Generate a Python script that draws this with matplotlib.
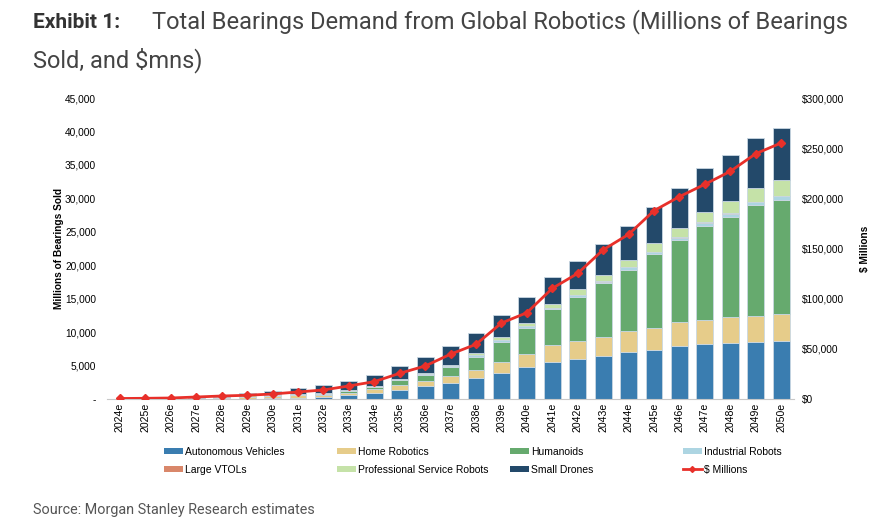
import numpy as np
import matplotlib
matplotlib.use('Agg')
import matplotlib.pyplot as plt
from matplotlib.patches import Patch
from matplotlib.lines import Line2D
from matplotlib.ticker import FuncFormatter

# Data (millions of bearings sold)
years = [f'{y}e' for y in range(2024, 2051)]

autonomous_vehicles = [10, 10, 15, 20, 30, 50, 100, 200, 300, 550, 950, 1350, 1950, 2440,
                       3190, 3940, 4830, 5580, 6000, 6450, 6980, 7380, 7920, 8170, 8320, 8470, 8620]
home_robotics = [10, 15, 25, 110, 160, 280, 380, 350, 350, 400, 500, 750, 790, 1000,
                 1200, 1640, 1840, 2440, 2720, 2870, 3140, 3290, 3590, 3690, 3890, 3890, 4140]
humanoids = [0, 0, 0, 0, 0, 0, 20, 50, 100, 200, 300, 750, 900, 1300,
             1940, 2990, 3990, 5430, 6580, 7980, 9220, 10960, 12210, 14050, 15050, 16590, 17040]
industrial_robots = [10, 10, 15, 20, 30, 40, 50, 60, 70, 80, 90, 50, 100, 150,
                     200, 250, 250, 150, 200, 250, 350, 300, 400, 470, 450, 490, 550]
large_vtols = [0, 0, 0, 0, 0, 0, 0, 0, 0, 0, 0, 0, 0, 0,
               0, 0, 0, 0, 0, 20, 20, 50, 50, 80, 100, 60, 50]
prof_service = [5, 10, 15, 40, 110, 160, 150, 90, 130, 170, 160, 50, 200, 250,
                350, 400, 450, 650, 900, 930, 1130, 1300, 1450, 1510, 1740, 2080, 2290]
small_drones = [20, 30, 50, 250, 250, 350, 450, 950, 1090, 1290, 1540, 1990, 2290, 2790,
                2940, 3340, 3840, 4040, 4290, 4630, 5030, 5480, 5880, 6580, 6980, 7380, 7870]

# $ Millions (right axis)
dollars_mn = [500, 700, 1000, 2000, 3000, 3700, 5000, 7000, 9000, 13000, 17300, 25600,
              32900, 44700, 54500, 75700, 86000, 110300, 125200, 148700, 164100, 187700,
              201700, 214000, 226900, 244500, 255200]

series = [
    ('Autonomous Vehicles', autonomous_vehicles, '#3a7db0'),
    ('Home Robotics', home_robotics, '#e6cc8a'),
    ('Humanoids', humanoids, '#66aa6e'),
    ('Industrial Robots', industrial_robots, '#add5e2'),
    ('Large VTOLs', large_vtols, '#d9876a'),
    ('Professional Service Robots', prof_service, '#c5e2a8'),
    ('Small Drones', small_drones, '#23496a'),
]
LINE_COLOR = '#e8302a'

plt.rcParams['font.family'] = ['Liberation Sans', 'DejaVu Sans']

fig = plt.figure(figsize=(8.94, 5.26), dpi=100)
ax = fig.add_axes([0.12, 1 - 399 / 526, 0.768, 301 / 526])

x = np.arange(len(years))
bottom = np.zeros(len(years))
for name, vals, col in series:
    vals = np.array(vals, dtype=float)
    ax.bar(x, vals, 0.66, bottom=bottom, color=col, edgecolor='#c9d7e2',
           linewidth=0.6, label=name, zorder=2)
    bottom += vals

ax.set_xlim(-0.5, len(years) - 0.5)
ax.set_ylim(0, 45000)
ax.set_yticks(np.arange(0, 45001, 5000))
ax.yaxis.set_major_formatter(FuncFormatter(lambda v, p: '-' if v == 0 else f'{v:,.0f}'))
ax.set_xticks(x)
ax.set_xticklabels(years, rotation=90, fontsize=7.6)
ax.tick_params(axis='x', length=0, pad=3)
ax.tick_params(axis='y', length=0, pad=8, labelsize=7.3)
ax.set_ylabel('Millions of Bearings Sold', fontsize=7.3, fontweight='bold', labelpad=1)
for s in ['left', 'right', 'top']:
    ax.spines[s].set_visible(False)
ax.spines['bottom'].set_color('#c8c8c8')

ax2 = ax.twinx()
ax2.plot(x, dollars_mn, color=LINE_COLOR, linewidth=2, marker='D', markersize=4.5, zorder=3)
ax2.set_ylim(0, 300000)
ax2.set_yticks(np.arange(0, 300001, 50000))
ax2.yaxis.set_major_formatter(FuncFormatter(lambda v, p: f'${v:,.0f}'))
ax2.tick_params(axis='y', length=0, pad=6, labelsize=7.3)
ax2.set_ylabel('$ Millions', fontsize=7.3, fontweight='bold', rotation=90, labelpad=11)
for s in ['left', 'right', 'top', 'bottom']:
    ax2.spines[s].set_visible(False)

# Legend: 4 columns, 2 rows, placed column by column
handles = [Patch(facecolor=c, edgecolor='none', label=n) for n, _, c in series]
handles.append(Line2D([0], [0], color=LINE_COLOR, linewidth=2, marker='D',
                      markersize=3, label='$ Millions'))
columns = [[handles[0], handles[4]], [handles[1], handles[5]],
           [handles[2], handles[6]], [handles[3], handles[7]]]
for i, hs in enumerate(columns):
    fig.legend(handles=hs, loc='upper left',
               bbox_to_anchor=((165 + 173 * i - 1) / 894, 1 - 447 / 526),
               frameon=False, fontsize=7.5, handlelength=1.8, handleheight=0.5,
               handletextpad=0.2, labelspacing=0.75, borderpad=0, borderaxespad=0)

# Title and source
fig.text(33 / 894, 1 - 22 / 526, 'Exhibit 1:', fontsize=15, fontweight='bold',
         family='Roboto', color='#333333', va='center')
fig.text(152 / 894, 1 - 22 / 526,
         'Total Bearings Demand from Global Robotics (Millions of Bearings',
         fontsize=17, family='Roboto', color='#444444', va='center')
fig.text(33 / 894, 1 - 60 / 526, 'Sold, and $mns)', fontsize=17, family='Roboto',
         color='#444444', va='center')
fig.text(33 / 894, 1 - 510 / 526, 'Source: Morgan Stanley Research estimates',
         fontsize=10.4, family='Roboto', color='#555555', va='center')

fig.savefig('out.png', dpi=100)
